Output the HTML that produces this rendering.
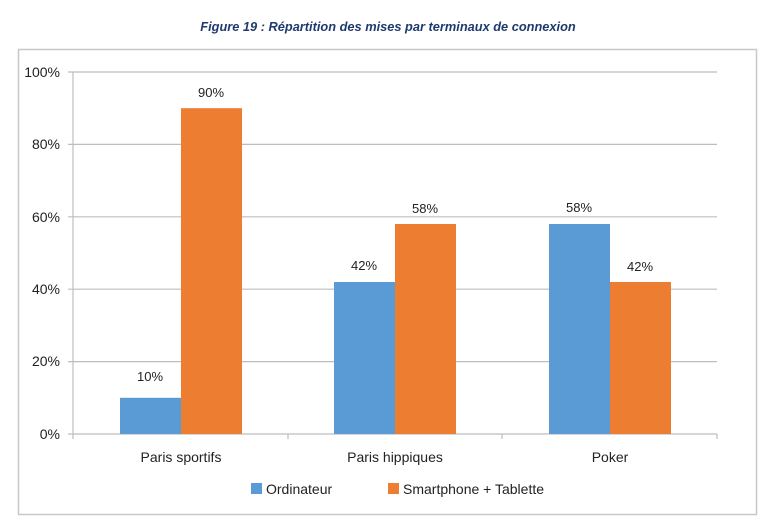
<!DOCTYPE html>
<html><head><meta charset="utf-8"><style>
body{margin:0;background:#fff;width:768px;height:526px;overflow:hidden}
</style></head><body>
<svg width="768" height="526" xmlns="http://www.w3.org/2000/svg" font-family="Liberation Sans, sans-serif">
<text x="388" y="31" text-anchor="middle" font-size="12.8" font-weight="bold" font-style="italic" fill="#1f3a6e">Figure 19 : Répartition des mises par terminaux de connexion</text>
<rect x="18.5" y="49.5" width="738" height="465" fill="#fff" stroke="#c8c8c8" stroke-width="1.5"/>
<g stroke="#bdbdbd" stroke-width="1.2">
<line x1="68" y1="72" x2="717" y2="72"/>
<line x1="68" y1="144.4" x2="717" y2="144.4"/>
<line x1="68" y1="216.8" x2="717" y2="216.8"/>
<line x1="68" y1="289.2" x2="717" y2="289.2"/>
<line x1="68" y1="361.6" x2="717" y2="361.6"/>
<line x1="68" y1="434" x2="717" y2="434"/>
<line x1="73" y1="72" x2="73" y2="434"/>
<line x1="73" y1="434" x2="73" y2="439"/>
<line x1="288" y1="434" x2="288" y2="439"/>
<line x1="502" y1="434" x2="502" y2="439"/>
<line x1="717" y1="434" x2="717" y2="439"/>
</g>
<g font-size="14" fill="#222" text-anchor="end">
<text x="60" y="77">100%</text><text x="60" y="149">80%</text><text x="60" y="222">60%</text>
<text x="60" y="294">40%</text><text x="60" y="366">20%</text><text x="60" y="439">0%</text>
</g>
<g fill="#5b9bd5">
<rect x="120" y="397.8" width="61" height="36.2"/>
<rect x="334" y="282" width="61" height="152"/>
<rect x="549" y="224" width="61" height="210"/>
</g>
<g fill="#ed7d31">
<rect x="181" y="108.2" width="61" height="325.8"/>
<rect x="395" y="224" width="61" height="210"/>
<rect x="610" y="282" width="61" height="152"/>
</g>
<g font-size="13" fill="#222" text-anchor="middle">
<text x="150" y="381">10%</text><text x="211" y="97">90%</text>
<text x="364" y="270">42%</text><text x="425" y="213">58%</text>
<text x="579" y="212">58%</text><text x="640" y="271">42%</text>
</g>
<g font-size="14" fill="#222" text-anchor="middle">
<text x="181" y="462">Paris sportifs</text><text x="395" y="462">Paris hippiques</text><text x="610" y="462">Poker</text>
</g>
<rect x="251" y="483" width="11" height="11" fill="#5b9bd5"/>
<text x="266" y="494" font-size="14" fill="#222">Ordinateur</text>
<rect x="388" y="483" width="11" height="11" fill="#ed7d31"/>
<text x="403" y="494" font-size="14" fill="#222">Smartphone + Tablette</text>
</svg>
</body></html>
